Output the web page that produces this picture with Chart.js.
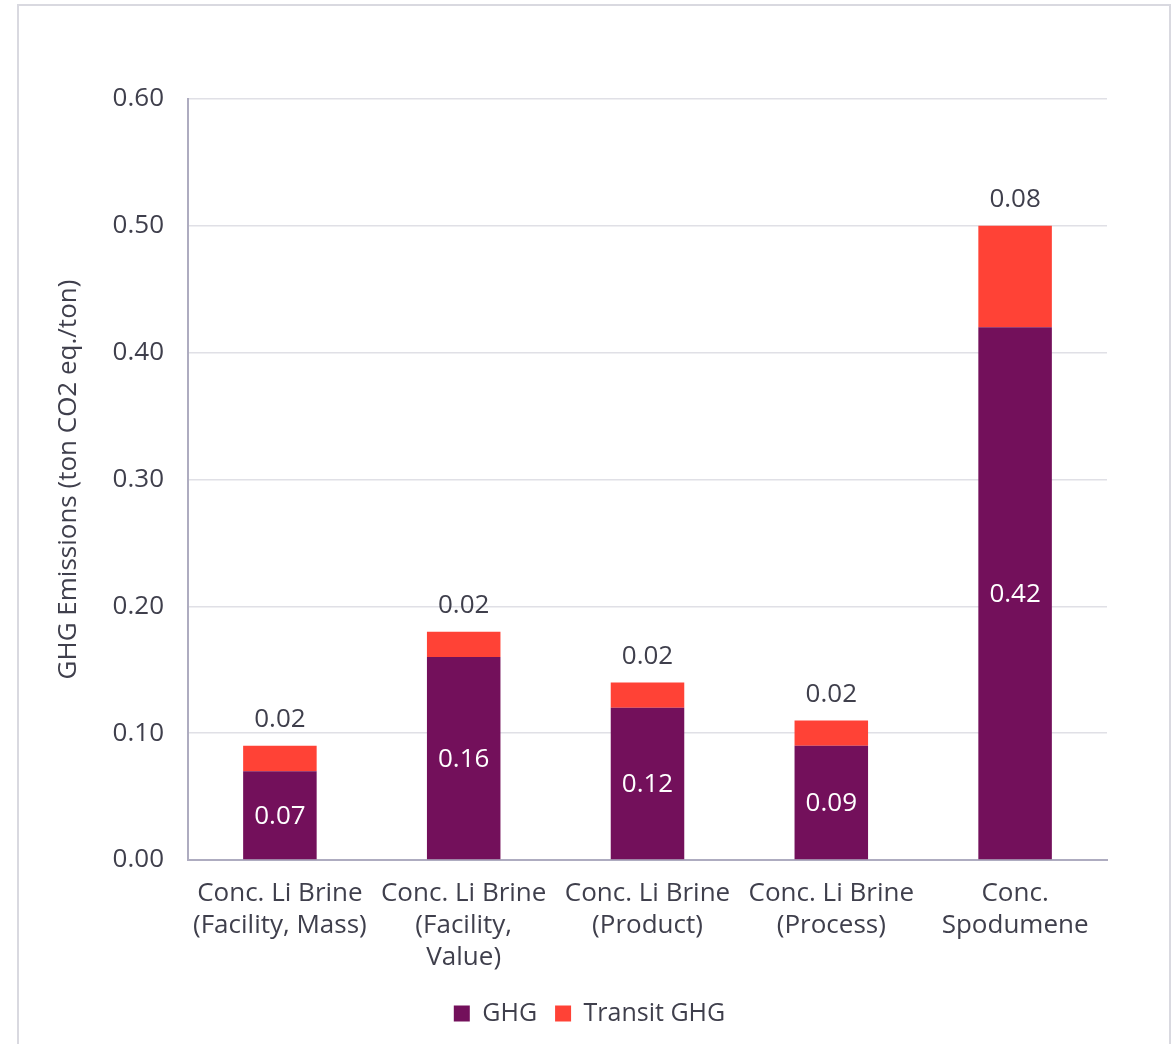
<!DOCTYPE html>
<html>
<head>
<meta charset="utf-8">
<script src="https://cdn.jsdelivr.net/npm/chart.js@4.4.1/dist/chart.umd.min.js"></script>
<style>
  html, body { margin: 0; padding: 0; background: #fff; }
  #wrap { position: relative; width: 1172px; height: 1044px; overflow: hidden; }
  #frame { position: absolute; left: 17px; top: 4px; right: 1px; bottom: -10px; border: 2px solid #d9d9e0; }
  #myChart { position: absolute; left: 0; top: 0; }
</style>
</head>
<body>
<div id="wrap">
  <div id="frame"></div>
  <canvas id="myChart" width="1172" height="1044"></canvas>
</div>
<script>
"use strict";

// Categories and values
const categories = [
	["Conc. Li Brine", "(Facility, Mass)"],
	["Conc. Li Brine", "(Facility,", "Value)"],
	["Conc. Li Brine", "(Product)"],
	["Conc. Li Brine", "(Process)"],
	["Conc.", "Spodumene"],
];
const ghgValues = [0.07, 0.16, 0.12, 0.09, 0.42];
const transitValues = [0.02, 0.02, 0.02, 0.02, 0.08];
const yTicks = [0, 0.1, 0.2, 0.3, 0.4, 0.5, 0.6];

const FONT = "'Open Sans', 'DejaVu Sans', sans-serif";
const TEXT = "#3f3f4c";
const SIZE = 26;

// Small plugin to write the values on the bars (no datalabels plugin available)
const valueLabels = {
	id: "valueLabels",
	afterDatasetsDraw(chart) {
		const ctx = chart.ctx;
		ctx.save();
		ctx.font = SIZE + "px " + FONT;
		ctx.textAlign = "center";
		ctx.textBaseline = "middle";
		chart.data.datasets.forEach(function (ds, i) {
			const meta = chart.getDatasetMeta(i);
			meta.data.forEach(function (bar, j) {
				const text = ds.data[j].toFixed(2);
				if (i === 0) {
					ctx.fillStyle = "#ffffff";
					ctx.fillText(text, bar.x, (bar.y + bar.base) / 2 + 1);
				} else {
					ctx.fillStyle = TEXT;
					ctx.fillText(text, bar.x, bar.y - 26);
				}
			});
		});
		ctx.restore();
	},
};

// The legend in the picture is centred on the whole page, not on the padded area
const centerLegend = {
	id: "centerLegend",
	afterLayout(chart) {
		if (chart.legend) {
			chart.legend.left += 36;
			chart.legend.right += 36;
		}
	},
};

new Chart(document.getElementById("myChart"), {
	type: "bar",
	data: {
		labels: categories,
		datasets: [
			{
				label: "GHG",
				data: ghgValues,
				backgroundColor: "#73105b",
				barPercentage: 0.4,
				categoryPercentage: 1,
			},
			{
				label: "Transit GHG",
				data: transitValues,
				backgroundColor: "#ff4236",
				barPercentage: 0.4,
				categoryPercentage: 1,
			},
		],
	},
	options: {
		responsive: false,
		animation: false,
		layout: { padding: { top: 99, right: 65, left: 0, bottom: 8 } },
		scales: {
			x: {
				stacked: true,
				grid: { display: false, drawTicks: false },
				border: { color: "#aeacc0", width: 2 },
				ticks: {
					color: TEXT,
					font: { family: FONT, size: SIZE, lineHeight: 1.24 },
					padding: 17,
					maxRotation: 0,
					autoSkip: false,
				},
				afterFit(scale) { scale.height = 123; },
			},
			y: {
				stacked: true,
				min: 0,
				max: 0.6,
				afterBuildTicks(scale) {
					scale.ticks = yTicks.map(function (v) { return { value: v }; });
				},
				grid: { color: "#e0e0e6", lineWidth: 1.5, drawTicks: false },
				border: { color: "#aeacc0", width: 2 },
				ticks: {
					color: TEXT,
					font: { family: FONT, size: SIZE },
					padding: 24,
					callback: function (v) { return Number(v).toFixed(2); },
				},
				title: {
					display: true,
					text: "GHG Emissions (ton CO2 eq./ton)",
					color: TEXT,
					font: { family: FONT, size: 26 },
					padding: { top: 53, bottom: 0 },
				},
				afterFit(scale) { scale.width = 188; },
			},
		},
		plugins: {
			legend: {
				position: "bottom",
				labels: {
					color: TEXT,
					font: { family: FONT, size: 25 },
					boxWidth: 16,
					boxHeight: 16,
					padding: 18,
				},
			},
			tooltip: { enabled: false },
		},
	},
	plugins: [valueLabels, centerLegend],
});
</script>
</body>
</html>
